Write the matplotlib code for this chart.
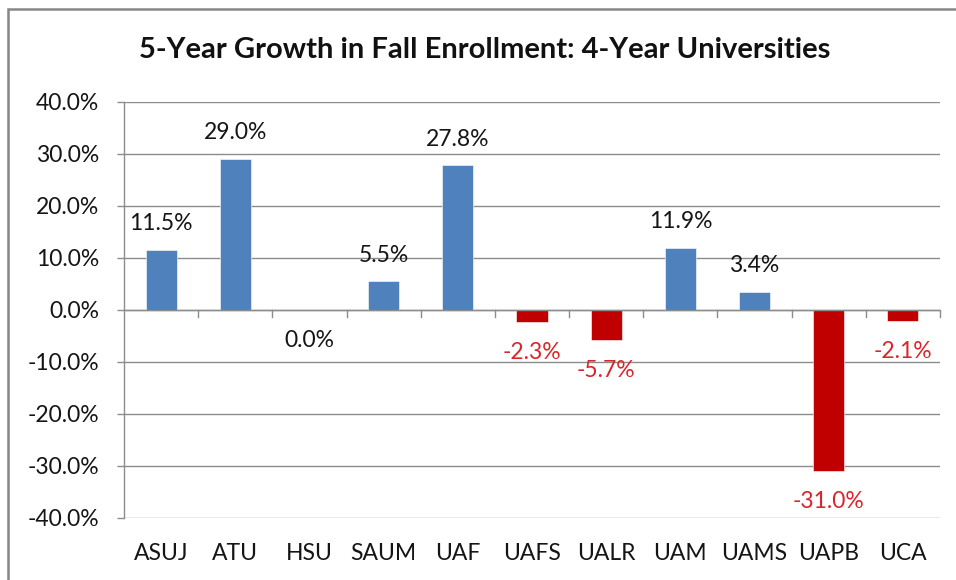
import matplotlib
matplotlib.use("Agg")
import matplotlib.pyplot as plt
from matplotlib.patches import Rectangle
from matplotlib.ticker import FuncFormatter, MultipleLocator

categories = ["ASUJ", "ATU", "HSU", "SAUM", "UAF", "UAFS", "UALR", "UAM", "UAMS", "UAPB", "UCA"]
growth = [11.5, 29.0, 0.0, 5.5, 27.8, -2.3, -5.7, 11.9, 3.4, -31.0, -2.1]
title = "5-Year Growth in Fall Enrollment: 4-Year Universities"

BLUE = "#4F81BD"
RED = "#C00000"
LABEL_RED = "#D9262B"
FONT = ["Lato", "DejaVu Sans"]
plt.rcParams["font.family"] = FONT
FS = 16.5

W, H = 956, 580
fig = plt.figure(figsize=(W / 100, H / 100), dpi=100)
fig.patch.set_facecolor("white")

# outer chart frame
fig.patches.append(Rectangle((8 / W, -0.05), 1.2, 1 - 9 / H + 0.05, transform=fig.transFigure,
                             fill=False, edgecolor="#878787", linewidth=1.8))

ax = fig.add_axes([124 / W, 1 - 518 / H, (940 - 124) / W, (518 - 102) / H])
x = list(range(len(categories)))
colors = [BLUE if v > 0 else RED for v in growth]
ax.bar(x, growth, width=0.42, color=colors, edgecolor="#ffffff", linewidth=0.4, zorder=3)

ax.set_xlim(-0.5, len(categories) - 0.5)
ax.set_ylim(-40, 40)
ax.yaxis.set_major_locator(MultipleLocator(10))
ax.yaxis.set_major_formatter(FuncFormatter(lambda v, p: f"{v:.1f}%"))
ax.grid(axis="y", color="#8c8c8c", linewidth=1.0, zorder=0)
ax.axhline(0, color="#8c8c8c", linewidth=1.0, zorder=4)

for s in ["top", "right", "bottom"]:
    ax.spines[s].set_visible(False)
ax.spines["left"].set_color("#8c8c8c")
ax.spines["left"].set_linewidth(1.0)

ax.set_xticks(x)
ax.set_xticklabels(categories)
ax.tick_params(axis="x", length=0, pad=18, labelsize=FS, labelcolor="#151515")
ax.tick_params(axis="y", length=5, width=1, color="#8c8c8c", pad=13, labelsize=FS, labelcolor="#151515")

# category boundary ticks on the zero line
for b in range(1, len(categories) + 1):
    ax.plot([b - 0.5, b - 0.5], [0, -1.3], color="#8c8c8c", linewidth=1.0, zorder=4, clip_on=False)

for xi, v in zip(x, growth):
    if v > 0:
        ax.annotate(f"{v:.1f}%", (xi, v), xytext=(0, 19), textcoords="offset points",
                    ha="center", va="center", fontsize=FS, color="#151515")
    else:
        ax.annotate(f"{v:.1f}%", (xi, v), xytext=(0, -22), textcoords="offset points",
                    ha="center", va="center", fontsize=FS,
                    color="#151515" if v == 0 else LABEL_RED)

fig.text(485 / W, 1 - 50 / H, title, ha="center", va="center", fontsize=21,
         fontweight="bold", color="#111111")

fig.savefig("out.png", dpi=100)
